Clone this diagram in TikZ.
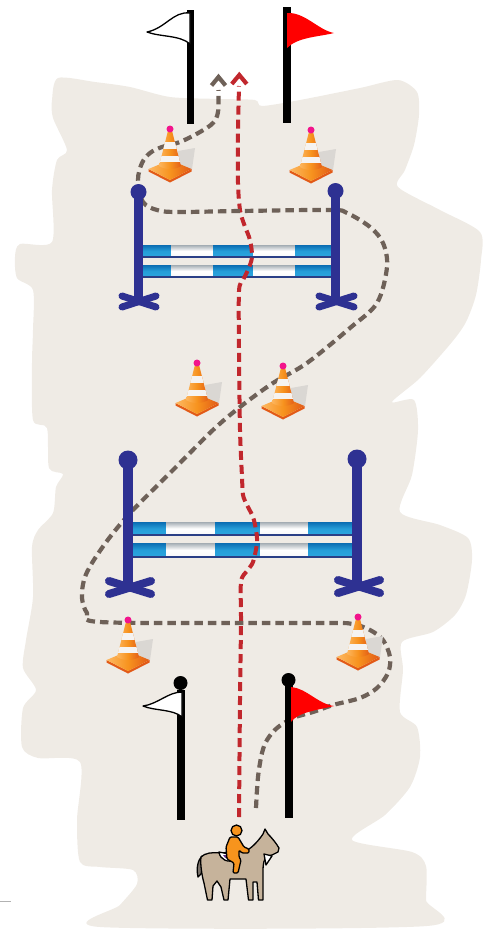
\documentclass[tikz,border=0pt]{standalone}
\usetikzlibrary{arrows.meta}
% palette
\definecolor{sand}{HTML}{EFEBE5}
\definecolor{navy}{HTML}{2E3192}
\definecolor{routegray}{HTML}{6E6158}
\definecolor{routered}{HTML}{C1272D}
\definecolor{conepink}{HTML}{F2148C}
\definecolor{coneorange}{HTML}{F7931E}
\definecolor{conelight}{HTML}{FDB863}
\definecolor{conedark}{HTML}{E25A17}
\definecolor{coneshadow}{HTML}{DAD7D3}
\definecolor{stripe}{HTML}{F5F3F1}
\definecolor{railtop}{HTML}{0A6CB2}
\definecolor{raillight}{HTML}{2AA6DF}
\definecolor{railedge}{HTML}{2A3F86}
\definecolor{bargray}{HTML}{A3ACB3}
\definecolor{flagred}{HTML}{FF0000}
\definecolor{horsetan}{HTML}{C6B39B}
\definecolor{tailgray}{HTML}{7B736B}
\definecolor{rider}{HTML}{F7941D}
\definecolor{saddle}{HTML}{5B2C83}

\tikzset{
  route/.style={line width=4.2pt, dash pattern=on 8.5pt off 5pt, line cap=butt, line join=round},
  grayroute/.style={route, draw=routegray},
  redroute/.style={route, draw=routered, line width=4pt, dash pattern=on 9pt off 5pt},
  chevron/.style={line width=4.2pt, line cap=butt, line join=miter},
  bluebar/.style={top color=railtop, bottom color=raillight, middle color=raillight!85!railtop},
  whitebar/.style={top color=bargray, bottom color=white!92!bargray, middle color=white},
  railrim/.style={draw=railedge, line width=1.3pt},
  standard/.style={fill=navy},
  foot/.style={draw=navy, line width=7pt, line cap=round},
  flagpole/.style={fill=black},
  pennant/.style={draw=black, line width=1.3pt, line join=round},
  outline/.style={draw=black, line width=1.3pt, line join=round},
  cone/.pic={
    % cast shadow
    \fill[coneshadow] (8,22) -- (25,19) -- (22,40) -- (9,38) -- cycle;
    % square foot of the cone
    \fill[conedark] (-21.5,40) -- (0,51) -- (21.5,40) -- (21.5,42.5) -- (0,53.5) -- (-21.5,42.5) -- cycle;
    \shade[left color=conelight, right color=conedark, middle color=coneorange] (-21.5,40) -- (0,31) -- (21.5,40) -- (0,51) -- cycle;
    % striped body
    \begin{scope}
      \clip (-1.8,1) -- (1.8,1) -- (11,37) .. controls (5,41) and (-5,41) .. (-11,37) -- cycle;
      \shade[left color=conelight, right color=conedark, middle color=coneorange] (-12,0) rectangle (12,42);
      \fill[stripe] (-12,13) rectangle (12,19.5);
      \fill[stripe] (-12,26.5) rectangle (12,33);
    \end{scope}
    \fill[conepink] (0,0) circle[radius=3.5pt];
  }
}

\begin{document}
\begin{tikzpicture}[x=1pt,y=-1pt]
\useasboundingbox (0,0) rectangle (485,929);

% sandy arena
\fill[sand] plot[smooth cycle, tension=0.45] coordinates {
 (58,78) (95,82) (130,87) (170,97) (220,99) (255,100) (262,106) (300,100) (360,88)
 (398,80) (417,92) (419,115) (414,145) (405,170) (398,187) (440,210) (480,232)
 (481,260) (476,295) (466,322) (452,342) (420,378) (392,402) (414,400) (418,430)
 (412,475) (400,512) (440,525) (468,538) (472,560) (466,595) (455,615) (433,632)
 (402,642) (403,670) (400,712) (417,727) (420,757) (410,787) (385,815) (352,840)
 (412,852) (426,866) (426,900) (427,926) (100,927) (120,905) (137,884) (133,870)
 (100,867) (80,862) (77,820) (80,762) (38,758) (22,747) (23,708) (36,690) (23,668)
 (26,640) (33,597) (32,547) (38,530) (53,513) (56,487) (63,474) (49,468) (47,428)
 (33,420) (32,363) (33,330) (33,290) (17,278) (15,257) (20,244) (52,242) (52,190)
 (57,160) (67,150) (53,118) (52,100)};

% small tick on the left margin
\coordinate (tickA) at (0,901);
\coordinate (tickB) at (11,901);
\draw[gray!60, line width=1pt] (tickA) -- (tickB);

% ---- rails of the two jumps ----
\foreach \ya/\yb in {245/257, 265/277}{
  \foreach \xa/\xb/\kind in {142/171/bluebar, 171/213/whitebar, 213/253/bluebar, 253/295/whitebar, 295/333/bluebar}{
    \shade[\kind] (\xa,\ya) rectangle (\xb,\yb);
  }
  \draw[railrim] (142,\yb) -- (333,\yb);
}
\foreach \ya/\yb in {522/535, 543/557}{
  \foreach \xa/\xb/\kind in {133/166/bluebar, 166/215/whitebar, 215/260/bluebar, 260/308/whitebar, 308/352/bluebar}{
    \shade[\kind] (\xa,\ya) rectangle (\xb,\yb);
  }
  \draw[railrim] (133,\yb) -- (352,\yb);
}

% ---- routes ----
\coordinate (redStart) at (239,817);
\coordinate (redEnd) at (239,86);
\coordinate (grayStart) at (256,808);
\coordinate (grayEnd) at (218.5,90);
\coordinate (redTip) at (239.3,75);
\coordinate (grayTip) at (218.5,77);

\draw[redroute] plot[smooth, tension=0.5] coordinates {
 (redStart) (240,700) (241,623) (241,582) (247,571) (253,562) (257,543) (256,530)
 (253,517) (247,505) (243,495) (242,477) (240,430) (239,350) (239,291) (243,280)
 (248,270) (252,257) (250,240) (244,224) (240,210) (238,183) (238,133) (redEnd)};
\draw[chevron, draw=routered] ([shift={(-7.5,9)}]redTip) -- (redTip) -- ([shift={(7.5,9)}]redTip);

\draw[grayroute] plot[smooth, tension=0.55] coordinates {
 (grayStart) (258,777) (262,753) (267,740) (277,728) (293,718) (313,712) (333,705)
 (360,698) (377,688) (388,673) (390,657) (383,640) (370,630) (353,624) (333,623)
 (240,623) (100,622) (87,613) (82,598) (84,580) (92,563) (110,537) (133,510)
 (173,470) (213,430) (240,407) (273,383) (307,363) (350,328) (377,303) (387,267)
 (383,243) (370,227) (347,213) (330,210) (240,211) (177,212) (157,210) (143,202)
 (138,180) (142,163) (150,153) (162,147) (180,142) (200,132) (213,123) (218,112)
 (grayEnd)};
\draw[chevron, draw=routegray] ([shift={(-7,8.5)}]grayTip) -- (grayTip) -- ([shift={(7,8.5)}]grayTip);

% ---- jump standards ----
% upper jump
\fill[standard] (134,192) rectangle (143,300);
\fill[standard] (138.5,192) circle[radius=8pt];
\draw[foot] (122,296) -- (156,307);
\draw[foot] (122,307) -- (156,296);
\fill[standard] (331,191) rectangle (340,300);
\fill[standard] (335.5,191) circle[radius=8pt];
\draw[foot] (319,296) -- (354,307);
\draw[foot] (319,307) -- (354,296);
% lower jump
\fill[standard] (123,460) rectangle (133,586);
\fill[standard] (128,460) circle[radius=9.5pt];
\draw[foot, line width=8pt] (109,581) -- (151,594);
\draw[foot, line width=8pt] (109,594) -- (151,581);
\fill[standard] (352,459) rectangle (362,586);
\fill[standard] (357,459) circle[radius=9.5pt];
\draw[foot, line width=8pt] (338,580) -- (380,593);
\draw[foot, line width=8pt] (338,593) -- (380,580);

% ---- flags ----
% finish flags
\fill[flagpole] (187,10) rectangle (194,124);
\filldraw[fill=white, pennant] (190,13) .. controls (173,11) and (166,28) .. (147,32)
  .. controls (160,37) and (180,35) .. (190,44) -- cycle;
\fill[flagpole] (283,7) rectangle (290.5,123);
\fill[flagred] (287,13) .. controls (305,12) and (318,30) .. (334,33)
  .. controls (318,37) and (298,37) .. (287,48) -- cycle;
% start flags
\fill[flagpole] (176.5,690) rectangle (185,820);
\fill[flagpole] (180.5,683) circle[radius=7pt];
\filldraw[fill=white, pennant] (182,692) .. controls (168,692) and (158,704) .. (143,706)
  .. controls (155,711) and (173,709) .. (182,717) -- cycle;
\fill[flagpole] (285,682) rectangle (293,818);
\fill[flagpole] (288.5,680) circle[radius=7pt];
\fill[flagred] (291,687) .. controls (306,688) and (318,704) .. (334,706)
  .. controls (318,710) and (298,712) .. (291,722) -- cycle;

% ---- cones ----
\pic (coneA) at (170,129) {cone};
\pic (coneB) at (311,130) {cone};
\pic (coneC) at (197,363) {cone};
\pic (coneD) at (283,366) {cone};
\pic (coneE) at (128,620) {cone};
\pic (coneF) at (358,617) {cone};

% ---- horse and rider ----
\filldraw[fill=tailgray, outline] (202,856) .. controls (198,860) and (196,868) .. (198,877)
  -- (201,874) -- (203,866) -- cycle;
\filldraw[fill=horsetan, outline]
 (201,857) .. controls (205,853) and (212,852) .. (220,853)
 -- (246,851)
 .. controls (253,847) and (259,840) .. (263,834)
 -- (265,829) -- (268,834)
 .. controls (272,838) and (276,843) .. (279,848)
 -- (278,852) -- (272,855) -- (267,856)
 .. controls (264,859) and (263,864) .. (263,870)
 -- (263,900) -- (258.5,900) -- (257,882)
 -- (253,882) -- (253,900) -- (248.5,900) -- (246,879)
 -- (230,879)
 -- (228,900) -- (224,900) -- (221,887) -- (217,881)
 -- (213,886) -- (212,900) -- (207.5,900) -- (204,883)
 .. controls (202,876) and (200,864) .. (201,857) -- cycle;
\filldraw[fill=white, outline] (264,854) -- (272,856) -- (266,865) -- cycle;
\filldraw[fill=white, outline] (219,852) .. controls (220,860) and (228,863) .. (236,860) -- (234,855) -- cycle;
\fill[saddle] (223,855) .. controls (225,859) and (229,860) .. (233.5,858.5) -- (233,855.5) -- cycle;
\filldraw[fill=rider, outline, rounded corners=1.2pt]
 (230,837) -- (238,837) -- (244,847) -- (249,849) -- (249,853) -- (242,853) -- (239,850)
 -- (239,857) -- (241,860) -- (238,873) -- (233,873) -- (234,863) -- (227,859) -- (226,847) -- cycle;
\filldraw[fill=rider, outline] (236.5,830.5) circle[radius=5.5pt];
\end{tikzpicture}
\end{document}
